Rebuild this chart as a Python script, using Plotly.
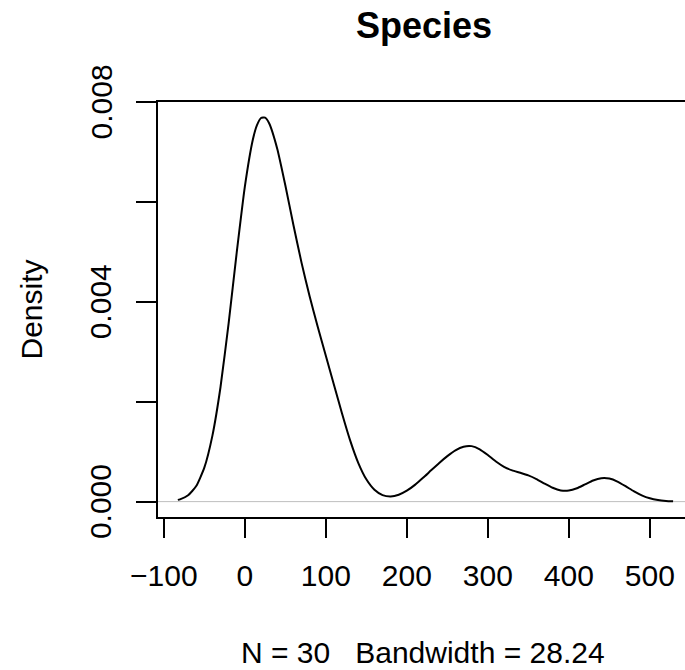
import plotly.graph_objects as go

# Density curve of Species
dens_x = [-82.7, -80, -70, -60, -50, -40, -30, -20, -10, 0, 10, 15, 20, 25, 30, 40, 50, 60, 70, 80, 90,
          100, 110, 120, 130, 140, 150, 160, 170, 180, 190, 200, 210, 220, 230, 240, 250, 260,
          270, 280, 290, 300, 310, 320, 330, 340, 350, 360, 370, 380, 390, 400, 410, 420, 430,
          440, 450, 460, 470, 480, 490, 500, 510, 520, 528.7]
dens_y = [0.000035, 0.000046, 0.000127, 0.000311, 0.000680, 0.001322, 0.002295, 0.003569,
          0.004987, 0.006301, 0.007253, 0.007535, 0.007679, 0.007687, 0.007575, 0.007066,
          0.006333, 0.005538,
          0.004785, 0.004110, 0.003502, 0.002922, 0.002341, 0.001763, 0.001225, 0.000776,
          0.000446, 0.000237, 0.000131, 0.000104, 0.000137, 0.000218, 0.000335, 0.000476,
          0.000626, 0.000774, 0.000911, 0.001027, 0.001100, 0.001111, 0.001048, 0.000932,
          0.000803, 0.000696, 0.000626, 0.000578, 0.000525, 0.000452, 0.000361, 0.000277,
          0.000224, 0.000221, 0.000267, 0.000345, 0.000423, 0.000468, 0.000461, 0.000401,
          0.000308, 0.000209, 0.000125, 0.000066, 0.000031, 0.000013, 0.000005]

x_ticks = [-100, 0, 100, 200, 300, 400, 500]
x_labels = ["\u2212100", "0", "100", "200", "300", "400", "500"]
y_ticks = [0.000, 0.002, 0.004, 0.006, 0.008]
y_labels = ["0.000", "", "0.004", "", "0.008"]

title_text = "Species"
y_title = "Density"
x_title = "N = 30   Bandwidth = 28.24"

FONT = "Liberation Sans, Arial, Helvetica, sans-serif"

W, H = 685, 670
L, T, B, R = 158, 102, 153, 0
plot_h = H - T - B
plot_w = W - L - R

def py(p):
    return (H - B - p) / plot_h

def px(p):
    return (p - L) / plot_w

fig = go.Figure()
fig.add_trace(go.Scatter(x=dens_x, y=dens_y, mode="lines",
                         line=dict(color="black", width=2, shape="spline", smoothing=0.5),
                         hoverinfo="skip", showlegend=False))

fig.add_shape(type="line", xref="paper", yref="y", x0=0, x1=1, y0=0, y1=0,
              line=dict(color="#BEBEBE", width=1), layer="below")

annotations = [
    dict(text="<b>%s</b>" % title_text, x=px(424), y=py(26), xref="paper", yref="paper",
         showarrow=False, xanchor="center", yanchor="middle",
         font=dict(size=36, family=FONT)),
    dict(text=y_title, x=px(31), y=py(309.5), xref="paper", yref="paper",
         showarrow=False, xanchor="center", yanchor="middle", textangle=-90,
         font=dict(size=30, family=FONT)),
    dict(text=x_title, x=px(423), y=py(652), xref="paper", yref="paper",
         showarrow=False, xanchor="center", yanchor="middle",
         font=dict(size=30, family=FONT)),
]
for v, lab in zip(y_ticks, y_labels):
    if lab:
        annotations.append(dict(text=lab, x=px(100.5), y=v, xref="paper", yref="y",
                                showarrow=False, xanchor="center", yanchor="middle",
                                textangle=-90, font=dict(size=30, family=FONT)))

fig.update_layout(
    width=W, height=H,
    margin=dict(l=L, r=R, t=T, b=B, pad=0),
    paper_bgcolor="white", plot_bgcolor="white",
    font=dict(family=FONT, size=30, color="black"),
    showlegend=False,
    xaxis=dict(range=[-107.18, 543.4], tickvals=x_ticks, ticktext=x_labels,
               ticks="outside", ticklen=19, tickwidth=2, tickcolor="black",
               showline=True, linecolor="black", linewidth=2, mirror=True,
               showgrid=False, zeroline=False, tickfont=dict(size=30),
               ticklabelstandoff=12),
    yaxis=dict(range=[-0.000308, 0.008], tickvals=y_ticks, showticklabels=False,
               ticks="outside", ticklen=20, tickwidth=2, tickcolor="black",
               showline=True, linecolor="black", linewidth=2, mirror=False,
               showgrid=False, zeroline=False),
    annotations=annotations,
)

fig.write_html("out.html")
